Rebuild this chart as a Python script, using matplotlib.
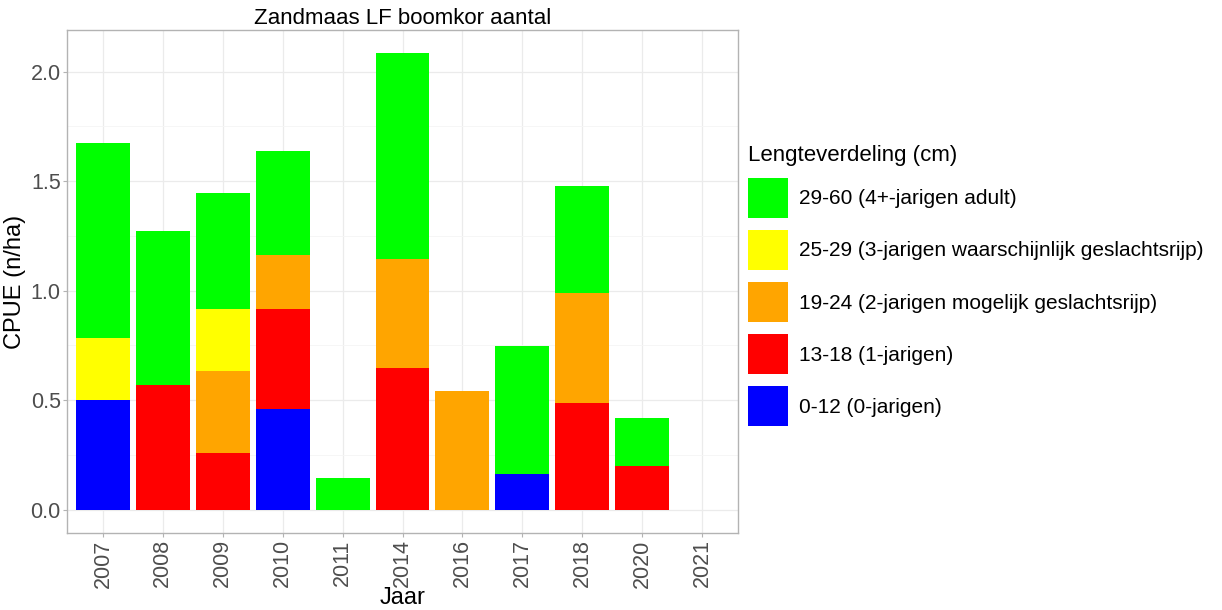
import matplotlib
matplotlib.use('Agg')
import numpy as np
import matplotlib.pyplot as plt
from matplotlib.patches import Patch
from matplotlib.ticker import MultipleLocator

plt.rcParams['font.family'] = ['Liberation Sans', 'DejaVu Sans']

years = ['2007', '2008', '2009', '2010', '2011', '2014', '2016', '2017', '2018', '2020', '2021']
# CPUE per length class (stacked bottom to top)
cls_0_12  = [0.503, 0.0,   0.0,   0.460, 0.0,   0.0,   0.0,   0.163, 0.0,   0.0,   0.0]
cls_13_18 = [0.0,   0.571, 0.257, 0.458, 0.0,   0.646, 0.0,   0.0,   0.487, 0.199, 0.0]
cls_19_24 = [0.0,   0.0,   0.376, 0.245, 0.0,   0.498, 0.541, 0.0,   0.503, 0.0,   0.0]
cls_25_29 = [0.282, 0.0,   0.284, 0.0,   0.0,   0.0,   0.0,   0.0,   0.0,   0.0,   0.0]
cls_29_60 = [0.890, 0.702, 0.528, 0.473, 0.144, 0.940, 0.0,   0.583, 0.487, 0.221, 0.0]

labels = ['0-12 (0-jarigen)', '13-18 (1-jarigen)', '19-24 (2-jarigen mogelijk geslachtsrijp)',
          '25-29 (3-jarigen waarschijnlijk geslachtsrijp)', '29-60 (4+-jarigen adult)']
colors = ['#0000FF', '#FF0000', '#FFA500', '#FFFF00', '#00FF00']
series = [cls_0_12, cls_13_18, cls_19_24, cls_25_29, cls_29_60]

fig = plt.figure(figsize=(12.22, 6.10), dpi=100)
ax = fig.add_axes([67/1222, 1-533/610, (738-67)/1222, (533-30)/610])

x = np.arange(len(years))
bottom = np.zeros(len(years))
for vals, col in zip(series, colors):
    vals = np.array(vals)
    ax.bar(x, vals, width=0.9, bottom=bottom, color=col, linewidth=0, zorder=3)
    bottom += vals

ax.set_xlim(-0.6, len(years) - 0.4)
ax.set_ylim(-0.106, 2.19)
ax.set_xticks(x)
ax.set_xticklabels(years, rotation=90)
ax.yaxis.set_major_locator(MultipleLocator(0.5))
ax.yaxis.set_minor_locator(MultipleLocator(0.25))
ax.yaxis.set_major_formatter(matplotlib.ticker.FormatStrFormatter('%.1f'))
ax.grid(which='major', color='#EBEBEB', lw=0.9, zorder=0)
ax.grid(which='minor', axis='y', color='#F5F5F5', lw=0.6, zorder=0)
ax.tick_params(which='major', labelsize=15.5, labelcolor='#4D4D4D', color='#B3B3B3',
               length=3, width=0.8, pad=1.5)
ax.tick_params(which='minor', length=0)
for s in ax.spines.values():
    s.set_color('#B3B3B3'); s.set_linewidth(1.0)

ax.set_xlabel('Jaar', fontsize=17, labelpad=0)
ax.set_ylabel('CPUE (n/ha)', fontsize=17, labelpad=3)
ax.set_title('Zandmaas LF boomkor aantal', fontsize=16, pad=4)

handles = [Patch(facecolor=c, edgecolor='none') for c in colors][::-1]
leg = fig.legend(handles, labels[::-1], title='Lengteverdeling (cm)', loc='upper left',
                 bbox_to_anchor=(748/1222, 1-145/610), frameon=False, fontsize=15,
                 title_fontsize=16, handlelength=1.92, handleheight=2.577,
                 labelspacing=0.58, handletextpad=0.55, borderpad=0, borderaxespad=0)
leg._legend_box.align = 'left'

plt.savefig('out.png', dpi=100)
